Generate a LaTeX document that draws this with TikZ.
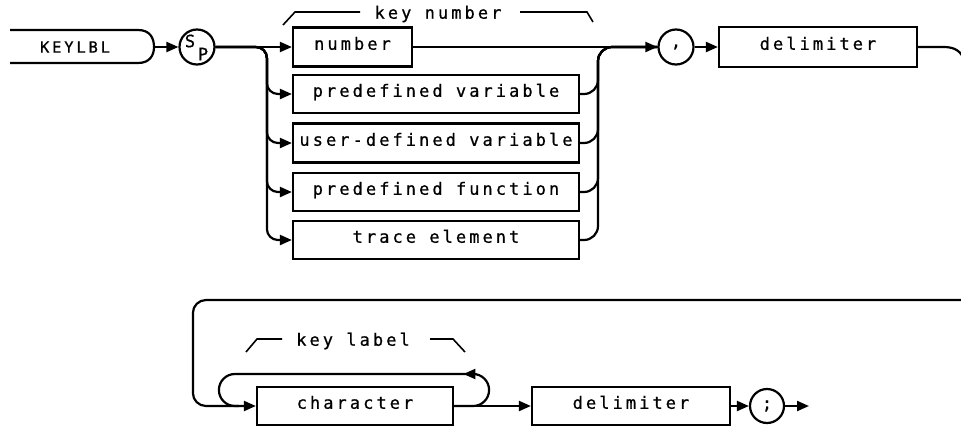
\documentclass[tikz,border=0pt]{standalone}
\usepackage{fontspec}
\newfontfamily\plotfont{DejaVu Sans Mono}[LetterSpace=18,FakeBold=0.7]
\usetikzlibrary{arrows.meta,decorations.markings,calc}
\begin{document}
\begin{tikzpicture}[x=1pt,y=-1pt,
  every node/.style={font=\plotfont\fontsize{17}{20}\selectfont},
  ln/.style={line width=2.2pt},
  tip/.style={-{Triangle[length=12pt,width=10pt]}},
  arr/.style={ln,tip},
  bx/.style={draw,ln,rectangle,inner sep=0pt,text height=0.8em,text depth=0.25em},
  cir/.style={draw,ln,circle,inner sep=0pt,minimum size=35pt},
  brk/.style={line width=1.6pt}]
\useasboundingbox (0,0) rectangle (961,426);

% KEYLBL terminal
\draw[ln] (10,30) -- (138,30) .. controls (150,30) and (154,38) .. (154,47)
  .. controls (154,55) and (150,63) .. (138,63) -- (10,63);
\node[font=\plotfont\fontsize{15.5}{18}\selectfont] (kw) at (75,47) {KEYLBL};
\coordinate (klr) at (154,47);

% Sp
\node[cir] (sp) at (197,47) {};
\node (sps) at (190,41) {S};
\node (spp) at (203,54) {P};

% alternatives
\node[bx,minimum width=119pt,minimum height=39pt] (num) at (352.5,47) {number};
\node[bx,minimum width=286pt,minimum height=38pt] (pv) at (436,94) {predefined variable};
\node[bx,minimum width=286pt,minimum height=39pt] (udv) at (436,143) {user-defined variable};
\node[bx,minimum width=286pt,minimum height=38pt] (pf) at (436,192) {predefined function};
\node[bx,minimum width=286pt,minimum height=38pt] (te) at (436,240) {trace element};

% key number label
\node (kn) at (438,14) {key number};
\draw[brk] (283,25) -- (295,12) -- (360,12);
\draw[brk] (520,12) -- (587,12) -- (593,22);

\node[cir] (cm) at (676,47) {,};
\node[bx,minimum width=198pt,minimum height=40pt] (d1) at (818,47) {delimiter};
\coordinate (mr) at (598,47);

\draw[arr] (klr) -- (sp.west);
\draw[arr] (sp.east) -- (num.west);
\foreach \b in {pv,udv,pf,te}{
  \draw[arr,rounded corners=11pt] (sp.east) -| ($(\b.west)+(-25,0)$) -- (\b.west);
  \draw[ln,rounded corners=14pt] (\b.east) -| (mr) -- (cm.west);
}
\draw[arr] (num.east) -- (cm.west);
\draw[arr] (cm.east) -- (d1.west);
\coordinate (out1) at (964,61);
\draw[ln] (d1.east) -- (944,47) .. controls (954,47) and (962,51) .. (out1);

% second row
\node[bx,minimum width=196pt,minimum height=38pt] (ch) at (355,406) {character};
\node[bx,minimum width=198pt,minimum height=38pt] (d2) at (631,406) {delimiter};
\node[cir,minimum size=34pt] (sc) at (767,406) {;};
\coordinate (in2) at (970,300);
\coordinate (end) at (809,406);

\draw[arr,rounded corners=13pt] (in2) -| ($(ch.west)+(-63,0)$) -- (ch.west);
\draw[ln,rounded corners=16pt,
  postaction={decorate,decoration={markings,
    mark=at position 79pt with {\arrow{Triangle[length=12pt,width=10pt]}}}}]
  (ch.east) -| ($(ch.east)+(35,-32)$) -| ($(ch.west)+(-37,0)$) -- ($(ch.west)+(-17,0)$);
\draw[arr] (ch.east) -- (d2.west);
\draw[arr] (d2.east) -- (sc.west);
\draw[arr] (sc.east) -- (end);

% key label
\node (kl) at (353,341) {key label};
\draw[brk] (246,352) -- (257,339) -- (282,339);
\draw[brk] (430,339) -- (453,339) -- (465,352);
\end{tikzpicture}
\end{document}
